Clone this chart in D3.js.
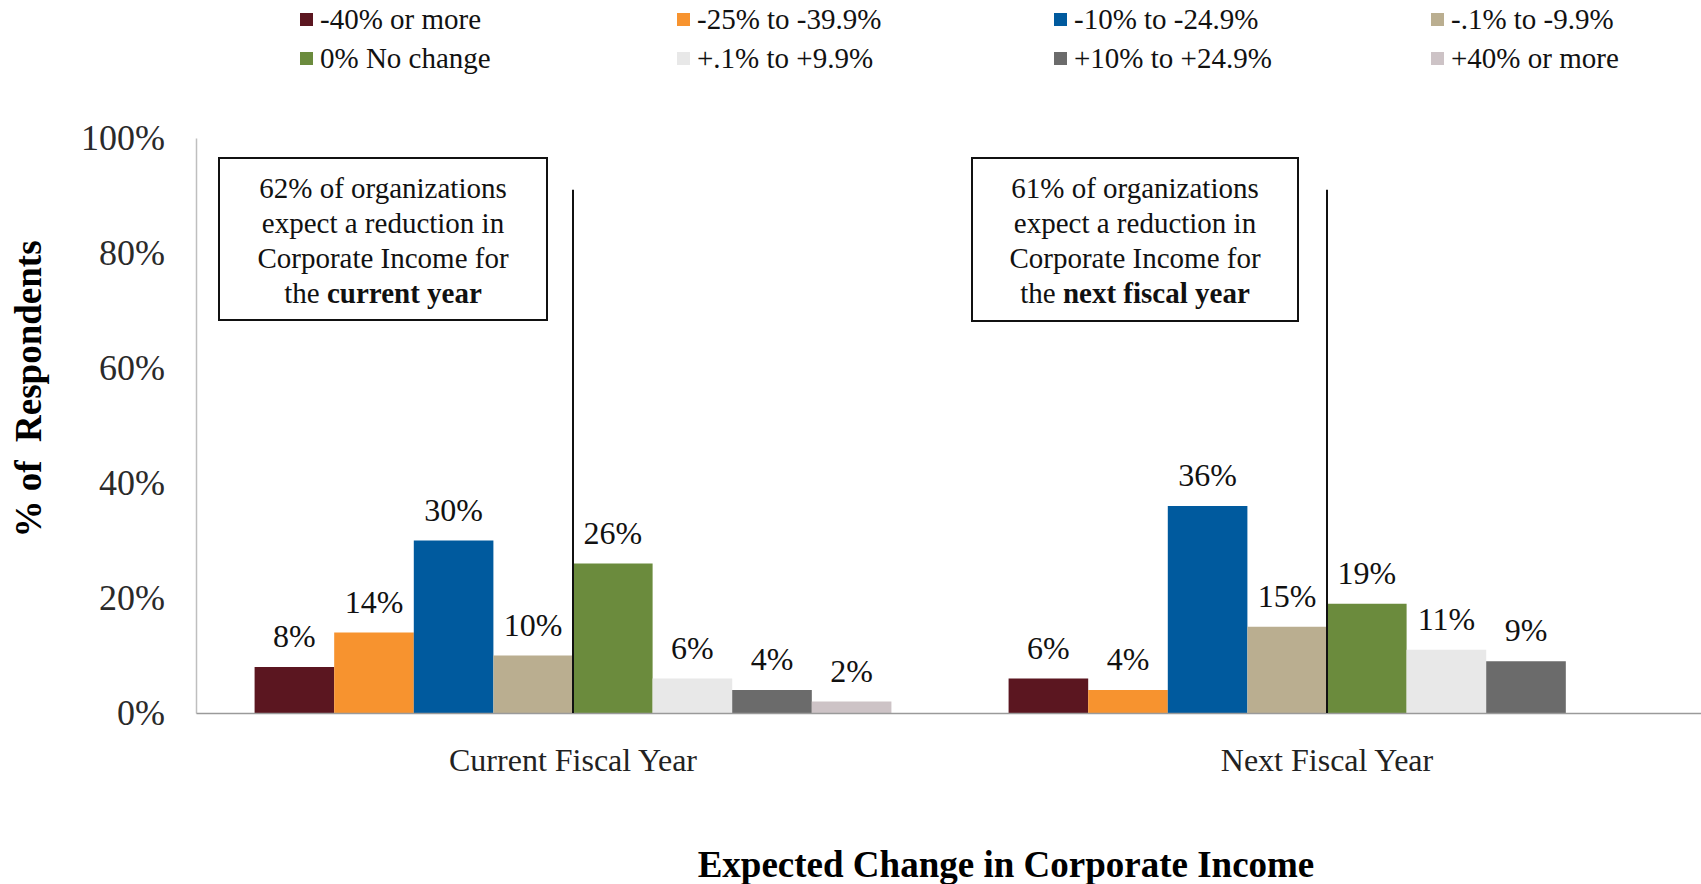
<!DOCTYPE html>
<html>
<head>
<meta charset="utf-8">
<script src="https://cdn.jsdelivr.net/npm/d3@7"></script>
<style>
  body { margin: 0; background: #fff; }
  text { font-family: "Liberation Serif", "Times New Roman", serif; }
</style>
</head>
<body>
<div id="chart"></div>
<script>
// data
const groups = ["Current Fiscal Year", "Next Fiscal Year"];
const categories = ["-40% or more", "-25% to -39.9%", "-10% to -24.9%", "-.1% to -9.9%",
                    "0% No change", "+.1% to +9.9%", "+10% to +24.9%", "+40% or more"];
const currentYear = [8, 14, 30, 10, 26, 6, 4, 2];
const nextYear = [6, 4, 36, 15, 19, 11, 9, null];
const yTicks = [0, 20, 40, 60, 80, 100];
const noteCurrent = [["62% of organizations"], ["expect a reduction in"], ["Corporate Income for"], ["the ", "current year"]];
const noteNext = [["61% of organizations"], ["expect a reduction in"], ["Corporate Income for"], ["the ", "next fiscal year"]];
const noteLineTop = [91, 91];

const colors = ["#5b1620", "#f7932f", "#005a9e", "#baae90", "#6b8b3d", "#e8e8e8", "#6b6b6b", "#cdc3c6"];

const width = 1701, height = 884;

let svg = d3.select("#chart")
    .append("svg")
    .attr("width", width)
    .attr("height", height);

let x0 = d3.scaleBand().domain(groups).range([196, 1704]);
let x1 = d3.scaleBand().domain(categories).range([0, x0.bandwidth()]).paddingOuter(0.736);
let y = d3.scaleLinear().domain([0, 100]).range([713, 138]);
let color = d3.scaleOrdinal().domain(categories).range(colors);

let rows = [];
groups.forEach((g, gi) => {
    let vals = gi === 0 ? currentYear : nextYear;
    categories.forEach((c, ci) => {
        if (vals[ci] !== null) rows.push({group: g, cat: c, value: vals[ci]});
    });
});

// y axis
let yAxis = svg.append("g")
    .attr("transform", "translate(196,0)")
    .call(d3.axisLeft(y).tickValues(yTicks).tickSize(0).tickPadding(31).tickFormat(d => d + "%"));
yAxis.select(".domain").attr("stroke", "#bfbfbf").attr("stroke-width", 1.5);
yAxis.selectAll("text")
    .attr("font-family", "Liberation Serif")
    .attr("font-size", 36)
    .attr("fill", "#2a2a2a");

// bars
svg.append("g").selectAll("rect")
    .data(rows)
    .enter()
    .append("rect")
    .attr("x", d => x0(d.group) + x1(d.cat))
    .attr("y", d => y(d.value))
    .attr("width", x1.bandwidth())
    .attr("height", d => y(0) - y(d.value))
    .attr("fill", d => color(d.cat));

svg.append("g").selectAll("text")
    .data(rows)
    .enter()
    .append("text")
    .attr("x", d => x0(d.group) + x1(d.cat) + x1.bandwidth() / 2)
    .attr("y", d => y(d.value) - 20)
    .attr("text-anchor", "middle")
    .attr("font-size", 32)
    .attr("fill", "#111")
    .text(d => d.value + "%");

// x axis
let xAxis = svg.append("g")
    .attr("transform", "translate(0,713)")
    .call(d3.axisBottom(x0).tickSize(0).tickSizeOuter(0).tickPadding(35));
xAxis.select(".domain").attr("stroke", "#9a9a9a").attr("stroke-width", 1.5);
xAxis.selectAll("text")
    .attr("font-family", "Liberation Serif")
    .attr("font-size", 32)
    .attr("fill", "#222");

// annotation boxes and lines
let notes = [noteCurrent, noteNext];
let boxes = [{x: 219, y: 158, w: 328, h: 162}, {x: 972, y: 158, w: 326, h: 163}];
groups.forEach((g, i) => {
    let cx = x0(g) + x0.bandwidth() / 2;
    svg.append("line")
        .attr("x1", cx).attr("x2", cx)
        .attr("y1", y(noteLineTop[i])).attr("y2", y(0))
        .attr("stroke", "#111")
        .attr("stroke-width", 2);

    let b = boxes[i];
    svg.append("rect")
        .attr("x", b.x).attr("y", b.y)
        .attr("width", b.w).attr("height", b.h)
        .attr("fill", "#fff")
        .attr("stroke", "#111")
        .attr("stroke-width", 2);

    let t = svg.append("text")
        .attr("text-anchor", "middle")
        .attr("font-size", 29)
        .attr("fill", "#111");
    notes[i].forEach((line, li) => {
        line.forEach((part, pi) => {
            let ts = t.append("tspan").text(part);
            if (pi === 0) ts.attr("x", b.x + b.w / 2).attr("y", b.y + 40 + li * 35);
            if (pi === 1) ts.attr("font-weight", "bold");
        });
    });
});

// legend
let legend = svg.append("g").selectAll("g")
    .data(categories)
    .enter()
    .append("g")
    .attr("transform", (d, i) => "translate(" + (300 + (i % 4) * 377) + "," + (20 + Math.floor(i / 4) * 39) + ")");
legend.append("rect")
    .attr("x", 0).attr("y", -7)
    .attr("width", 13).attr("height", 13)
    .attr("fill", d => color(d));
legend.append("text")
    .attr("x", 20)
    .attr("y", 9)
    .attr("font-size", 29)
    .attr("fill", "#111")
    .text(d => d);

// axis titles
svg.append("text")
    .attr("transform", "translate(41,389) rotate(-90)")
    .attr("text-anchor", "middle")
    .attr("font-size", 37)
    .attr("font-weight", "bold")
    .attr("fill", "#000")
    .attr("xml:space", "preserve")
    .text("% of  Respondents");

svg.append("text")
    .attr("x", 1006)
    .attr("y", 877)
    .attr("text-anchor", "middle")
    .attr("font-size", 37)
    .attr("font-weight", "bold")
    .attr("fill", "#000")
    .text("Expected Change in Corporate Income");
</script>
</body>
</html>
